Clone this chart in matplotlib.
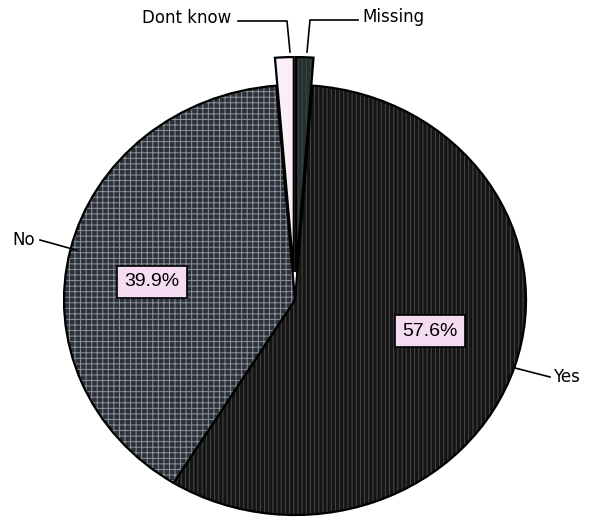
import matplotlib
matplotlib.use("Agg")
import matplotlib.pyplot as plt

# Survey responses (percent)
categories = ["Yes", "No", "Dont know", "Missing"]
values = [57.6, 39.9, 1.3, 1.2]
pct_labels = ["57.6%", "39.9%"]

plt.rcParams["font.family"] = ["Liberation Sans", "DejaVu Sans"]
plt.rcParams["hatch.linewidth"] = 0.7

W, H = 590, 517
fig = plt.figure(figsize=(W / 100, H / 100), dpi=100)
ax = fig.add_axes([0, 0, 1, 1])
ax.set_axis_off()

# pixel -> figure fraction helper for text placement
def px(x, y):
    return (x / W, 1 - y / H)

face = ["#141414", "#2c3038", "#fbeef8", "#26302f"]
hatch_col = ["#4a4a4a", "#8c939c", "#fbeef8", "#3e4a48"]
hatches = ["||||", "+++", None, "||||"]
explode = [0, 0, 0.13, 0.13]

# Dont know / Missing boundary sits at 12 o'clock
start = 90 - values[3] * 3.6

# fill + hatch layer
wedges, _ = ax.pie(values, startangle=start, counterclock=False, explode=explode,
                   colors=face, radius=1.0,
                   wedgeprops=dict(linewidth=0.0))
for w, hc, h in zip(wedges, hatch_col, hatches):
    w.set_edgecolor(hc)
    if h:
        w.set_hatch(h)

# outline layer
ax.pie(values, startangle=start, counterclock=False, explode=explode,
       colors=["none"] * 4, radius=1.0,
       wedgeprops=dict(linewidth=1.6, edgecolor="black", fill=False))

# slightly elliptical shape; centre at pixel (295, 300)
rx, ry = 231, 215
cx, cy = 295, 300
ax.set_aspect("auto")
ax.set_xlim(-cx / rx, (W - cx) / rx)
ax.set_ylim(-(H - cy) / ry, cy / ry)

# percentage boxes
box = dict(boxstyle="square,pad=0.4", facecolor="#f6dcf2", edgecolor="black", linewidth=1.2)
fig.text(*px(430, 331), pct_labels[0], ha="center", va="center", fontsize=14, bbox=box)
fig.text(*px(152, 282), pct_labels[1], ha="center", va="center", fontsize=14, bbox=box)

# category labels with leader lines
lw = 1.2
def line(xs, ys):
    fig.add_artist(plt.Line2D([x / W for x in xs], [1 - y / H for y in ys],
                              color="black", linewidth=lw))

lab = dict(fontsize=12, family=["DejaVu Sans"])
fig.text(*px(231, 18), categories[2], ha="right", va="center", **lab)
line([238, 287, 290], [21, 21, 52])
fig.text(*px(362, 17), categories[3], ha="left", va="center", **lab)
line([358, 310, 307], [20, 20, 52])
fig.text(*px(35, 240), categories[1], ha="right", va="center", **lab)
line([40, 76], [240, 250])
fig.text(*px(553, 377), categories[0], ha="left", va="center", **lab)
line([515, 550], [368, 377])

fig.savefig("out.png", dpi=100, facecolor="white")
